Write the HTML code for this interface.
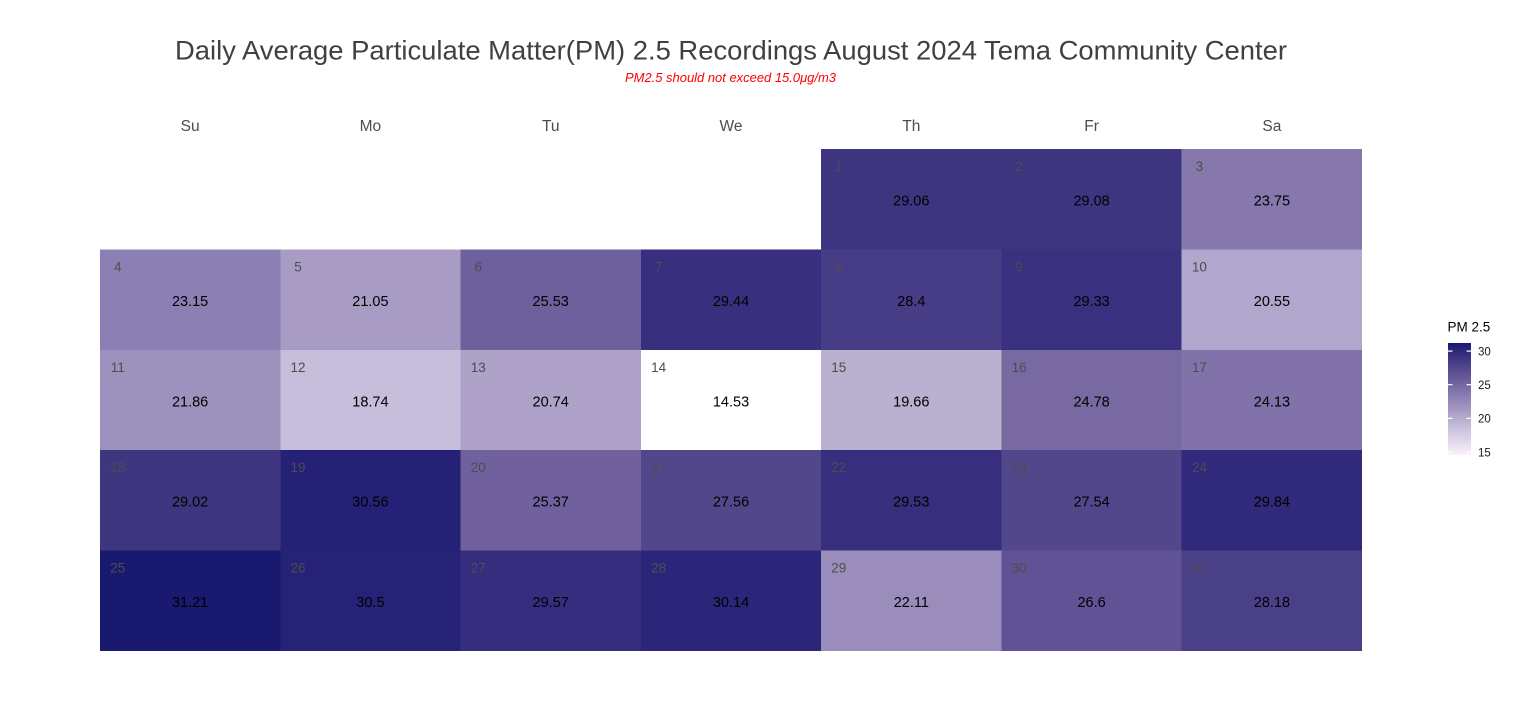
<!DOCTYPE html>
<html>
<head>
<meta charset="utf-8">
<style>
html,body{margin:0;padding:0;background:#fff;}
svg{display:block;}
text{font-family:"Liberation Sans",Arial,sans-serif;}
</style>
</head>
<body>
<svg width="1519" height="725" viewBox="0 0 1519 725" xmlns="http://www.w3.org/2000/svg">
<rect x="0" y="0" width="1519" height="725" fill="#ffffff"/>
<text x="731" y="59.5" font-size="27" fill="#404040" text-anchor="middle" textLength="1112" lengthAdjust="spacingAndGlyphs">Daily Average Particulate Matter(PM) 2.5 Recordings August 2024 Tema Community Center</text>
<text x="730.5" y="82" font-size="12.5" fill="#ff0000" font-style="italic" text-anchor="middle" textLength="211" lengthAdjust="spacingAndGlyphs">PM2.5 should not exceed 15.0μg/m3</text>

<g font-size="15.5" fill="#4d4d4d" text-anchor="middle">
<text x="190.1" y="131">Su</text>
<text x="370.4" y="131">Mo</text>
<text x="550.7" y="131">Tu</text>
<text x="731" y="131">We</text>
<text x="911.3" y="131">Th</text>
<text x="1091.6" y="131">Fr</text>
<text x="1271.9" y="131">Sa</text>
</g>

<!-- cells -->
<g shape-rendering="crispEdges">
<!-- row 0 -->
<rect x="821.1" y="149" width="180.3" height="100.4" fill="#3e3580"/>
<rect x="1001.4" y="149" width="180.3" height="100.4" fill="#3e3580"/>
<rect x="1181.7" y="149" width="180.3" height="100.4" fill="#8677ac"/>
<!-- row 1 -->
<rect x="100" y="249.4" width="180.3" height="100.4" fill="#8c7fb3"/>
<rect x="280.3" y="249.4" width="180.3" height="100.4" fill="#a89cc4"/>
<rect x="460.6" y="249.4" width="180.3" height="100.4" fill="#6e5f9d"/>
<rect x="640.9" y="249.4" width="180.3" height="100.4" fill="#382f7f"/>
<rect x="821.1" y="249.4" width="180.3" height="100.4" fill="#473d86"/>
<rect x="1001.4" y="249.4" width="180.3" height="100.4" fill="#3a3080"/>
<rect x="1181.7" y="249.4" width="180.3" height="100.4" fill="#b1a6cc"/>
<!-- row 2 -->
<rect x="100" y="349.8" width="180.3" height="100.4" fill="#9d91bd"/>
<rect x="280.3" y="349.8" width="180.3" height="100.4" fill="#c6bedb"/>
<rect x="460.6" y="349.8" width="180.3" height="100.4" fill="#aea2c9"/>
<rect x="640.9" y="349.8" width="180.3" height="100.4" fill="#ffffff"/>
<rect x="821.1" y="349.8" width="180.3" height="100.4" fill="#bab1d0"/>
<rect x="1001.4" y="349.8" width="180.3" height="100.4" fill="#7869a3"/>
<rect x="1181.7" y="349.8" width="180.3" height="100.4" fill="#8172a9"/>
<!-- row 3 -->
<rect x="100" y="450.2" width="180.3" height="100.4" fill="#3f3680"/>
<rect x="280.3" y="450.2" width="180.3" height="100.4" fill="#252176"/>
<rect x="460.6" y="450.2" width="180.3" height="100.4" fill="#70619e"/>
<rect x="640.9" y="450.2" width="180.3" height="100.4" fill="#53478c"/>
<rect x="821.1" y="450.2" width="180.3" height="100.4" fill="#372e7e"/>
<rect x="1001.4" y="450.2" width="180.3" height="100.4" fill="#53478c"/>
<rect x="1181.7" y="450.2" width="180.3" height="100.4" fill="#312a7c"/>
<!-- row 4 -->
<rect x="100" y="550.6" width="180.3" height="100.4" fill="#191970"/>
<rect x="280.3" y="550.6" width="180.3" height="100.4" fill="#262277"/>
<rect x="460.6" y="550.6" width="180.3" height="100.4" fill="#362d7e"/>
<rect x="640.9" y="550.6" width="180.3" height="100.4" fill="#2c267a"/>
<rect x="821.1" y="550.6" width="180.3" height="100.4" fill="#9a8dbb"/>
<rect x="1001.4" y="550.6" width="180.3" height="100.4" fill="#605294"/>
<rect x="1181.7" y="550.6" width="180.3" height="100.4" fill="#4a4087"/>
</g>

<!-- day numbers -->
<g font-size="13.5" fill="#4d4d4d" text-anchor="middle">
<text x="838.8" y="171">1</text>
<text x="1019.1" y="171">2</text>
<text x="1199.4" y="171">3</text>
<text x="117.7" y="271.4">4</text>
<text x="298" y="271.4">5</text>
<text x="478.3" y="271.4">6</text>
<text x="658.6" y="271.4">7</text>
<text x="838.8" y="271.4">8</text>
<text x="1019.1" y="271.4">9</text>
<text x="1199.4" y="271.4">10</text>
<text x="117.7" y="371.8">11</text>
<text x="298" y="371.8">12</text>
<text x="478.3" y="371.8">13</text>
<text x="658.6" y="371.8">14</text>
<text x="838.8" y="371.8">15</text>
<text x="1019.1" y="371.8">16</text>
<text x="1199.4" y="371.8">17</text>
<text x="117.7" y="472.2">18</text>
<text x="298" y="472.2">19</text>
<text x="478.3" y="472.2">20</text>
<text x="658.6" y="472.2">21</text>
<text x="838.8" y="472.2">22</text>
<text x="1019.1" y="472.2">23</text>
<text x="1199.4" y="472.2">24</text>
<text x="117.7" y="572.6">25</text>
<text x="298" y="572.6">26</text>
<text x="478.3" y="572.6">27</text>
<text x="658.6" y="572.6">28</text>
<text x="838.8" y="572.6">29</text>
<text x="1019.1" y="572.6">30</text>
<text x="1199.4" y="572.6">31</text>
</g>

<!-- values -->
<g font-size="14.5" fill="#000000" text-anchor="middle">
<text x="911.3" y="205.5">29.06</text>
<text x="1091.6" y="205.5">29.08</text>
<text x="1271.9" y="205.5">23.75</text>
<text x="190.1" y="305.9">23.15</text>
<text x="370.4" y="305.9">21.05</text>
<text x="550.7" y="305.9">25.53</text>
<text x="731" y="305.9">29.44</text>
<text x="911.3" y="305.9">28.4</text>
<text x="1091.6" y="305.9">29.33</text>
<text x="1271.9" y="305.9">20.55</text>
<text x="190.1" y="406.3">21.86</text>
<text x="370.4" y="406.3">18.74</text>
<text x="550.7" y="406.3">20.74</text>
<text x="731" y="406.3">14.53</text>
<text x="911.3" y="406.3">19.66</text>
<text x="1091.6" y="406.3">24.78</text>
<text x="1271.9" y="406.3">24.13</text>
<text x="190.1" y="506.7">29.02</text>
<text x="370.4" y="506.7">30.56</text>
<text x="550.7" y="506.7">25.37</text>
<text x="731" y="506.7">27.56</text>
<text x="911.3" y="506.7">29.53</text>
<text x="1091.6" y="506.7">27.54</text>
<text x="1271.9" y="506.7">29.84</text>
<text x="190.1" y="607.1">31.21</text>
<text x="370.4" y="607.1">30.5</text>
<text x="550.7" y="607.1">29.57</text>
<text x="731" y="607.1">30.14</text>
<text x="911.3" y="607.1">22.11</text>
<text x="1091.6" y="607.1">26.6</text>
<text x="1271.9" y="607.1">28.18</text>
</g>

<!-- legend -->
<defs>
<linearGradient id="lg" x1="0" y1="0" x2="0" y2="1">
<stop offset="0" stop-color="#191970"/>
<stop offset="0.043" stop-color="#262277"/>
<stop offset="0.128" stop-color="#3e3580"/>
<stop offset="0.341" stop-color="#6e5f9d"/>
<stop offset="0.483" stop-color="#8c7fb3"/>
<stop offset="0.609" stop-color="#a89cc4"/>
<stop offset="0.692" stop-color="#bab1d0"/>
<stop offset="0.748" stop-color="#c6bedb"/>
<stop offset="0.9" stop-color="#e6dcef"/>
<stop offset="1" stop-color="#f8f2fb"/>
</linearGradient>
</defs>
<text x="1447.5" y="331.7" font-size="13.5" fill="#000">PM 2.5</text>
<rect x="1448" y="343" width="23" height="112" fill="url(#lg)"/>
<g stroke="#ffffff" stroke-width="1.2">
<line x1="1448" y1="351.1" x2="1452.5" y2="351.1"/>
<line x1="1466.5" y1="351.1" x2="1471" y2="351.1"/>
<line x1="1448" y1="384.7" x2="1452.5" y2="384.7"/>
<line x1="1466.5" y1="384.7" x2="1471" y2="384.7"/>
<line x1="1448" y1="418.3" x2="1452.5" y2="418.3"/>
<line x1="1466.5" y1="418.3" x2="1471" y2="418.3"/>
<line x1="1448" y1="451.9" x2="1452.5" y2="451.9"/>
<line x1="1466.5" y1="451.9" x2="1471" y2="451.9"/>
</g>
<g font-size="11.5" fill="#1a1a1a">
<text x="1478" y="355.5">30</text>
<text x="1478" y="389.1">25</text>
<text x="1478" y="422.7">20</text>
<text x="1478" y="456.3">15</text>
</g>
</svg>
</body>
</html>
